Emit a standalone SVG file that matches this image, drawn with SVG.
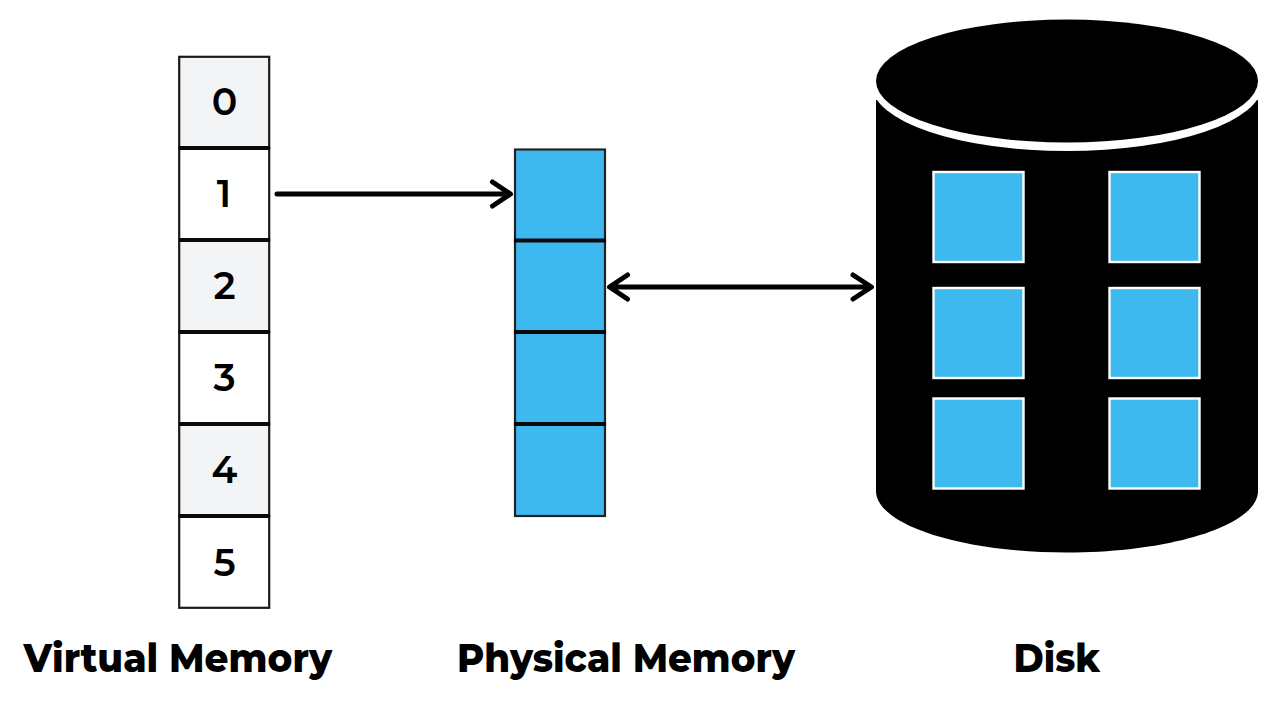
<svg xmlns="http://www.w3.org/2000/svg" width="1280" height="720" viewBox="0 0 1280 720">
<style>
.v{stroke:#1a1a1a;stroke-width:2.2}
.g{fill:#f3f4f6}.w{fill:#fff}
.p{fill:#3db9ef;stroke:#222;stroke-width:2.2}
.s{fill:none;stroke:#0a0a0a;stroke-width:4}
.d{fill:#3db9ef;stroke:#fff;stroke-width:2.4}
.n{font-family:"Montserrat","Inter","Noto Sans",sans-serif;font-weight:600;font-size:38px;text-anchor:middle;fill:#000}
.l{font-family:"Montserrat","Inter","Noto Sans",sans-serif;font-weight:800;font-size:39px;fill:#000}
.c{fill:none;stroke:#000;stroke-width:5;stroke-linecap:round;stroke-linejoin:round}
</style>
<rect width="1280" height="720" fill="#fff"/>
<g id="virtual-memory">
<g id="v0"><rect class="v g" x="179.200" y="56.800" width="90" height="91"/><text class="n" x="224.500" y="114.500">0</text></g>
<g id="v1"><rect class="v w" x="179.200" y="148" width="90" height="92"/><text class="n" x="224" y="206.500">1</text></g>
<g id="v2"><rect class="v g" x="179.200" y="240" width="90" height="92"/><text class="n" x="224.500" y="298.500">2</text></g>
<g id="v3"><rect class="v w" x="179.200" y="332" width="90" height="92"/><text class="n" x="224.500" y="390.500">3</text></g>
<g id="v4"><rect class="v g" x="179.200" y="424" width="90" height="92"/><text class="n" x="224.500" y="483">4</text></g>
<g id="v5"><rect class="v w" x="179.200" y="516" width="90" height="91.800"/><text class="n" x="224.500" y="576">5</text></g>
<path class="s" d="M179 148H270M179 240H270M179 332H270M179 424H270M179 516H270"/>
</g>
<g id="physical-memory">
<rect id="p0" class="p" x="515" y="149.500" width="90" height="91"/>
<rect id="p1" class="p" x="515" y="240.500" width="90" height="91.500"/>
<rect id="p2" class="p" x="515" y="332" width="90" height="92"/>
<rect id="p3" class="p" x="515" y="424" width="90" height="92"/>
<path class="s" d="M514 240.500H606M514 332H606M514 424H606"/>
</g>
<g id="disk">
<path d="M876 100V491C876 525 962 552.500 1067 552.500S1258 525 1258 491V100Z" fill="#000"/>
<ellipse cx="1067" cy="85" rx="195" ry="66" fill="#fff"/>
<rect x="860" y="10" width="16" height="95" fill="#fff"/>
<rect x="1258" y="10" width="16" height="95" fill="#fff"/>
<ellipse cx="1067" cy="81" rx="191" ry="61.500" fill="#000"/>
<rect class="d" x="933.500" y="172" width="90" height="90"/>
<rect class="d" x="1109.500" y="172" width="90" height="90"/>
<rect class="d" x="933.500" y="288" width="90" height="90"/>
<rect class="d" x="1109.500" y="288" width="90" height="90"/>
<rect class="d" x="933.500" y="398.500" width="90" height="90"/>
<rect class="d" x="1109.500" y="398.500" width="90" height="90"/>
</g>
<g id="connectors">
<path class="c" d="M277 194H510M492.500 182L510.500 194L492.500 206"/>
<path class="c" d="M610 287H871M627.500 275L609.500 287L627.500 299M853 275L871.500 287L853 299"/>
</g>
<g id="labels">
<text class="l" x="23.500" y="671.500" textLength="308.500" lengthAdjust="spacingAndGlyphs">Virtual Memory</text>
<text class="l" x="457" y="671.500" textLength="338" lengthAdjust="spacingAndGlyphs">Physical Memory</text>
<text class="l" x="1013.500" y="671.500" textLength="86.500" lengthAdjust="spacingAndGlyphs">Disk</text>
</g>
</svg>
